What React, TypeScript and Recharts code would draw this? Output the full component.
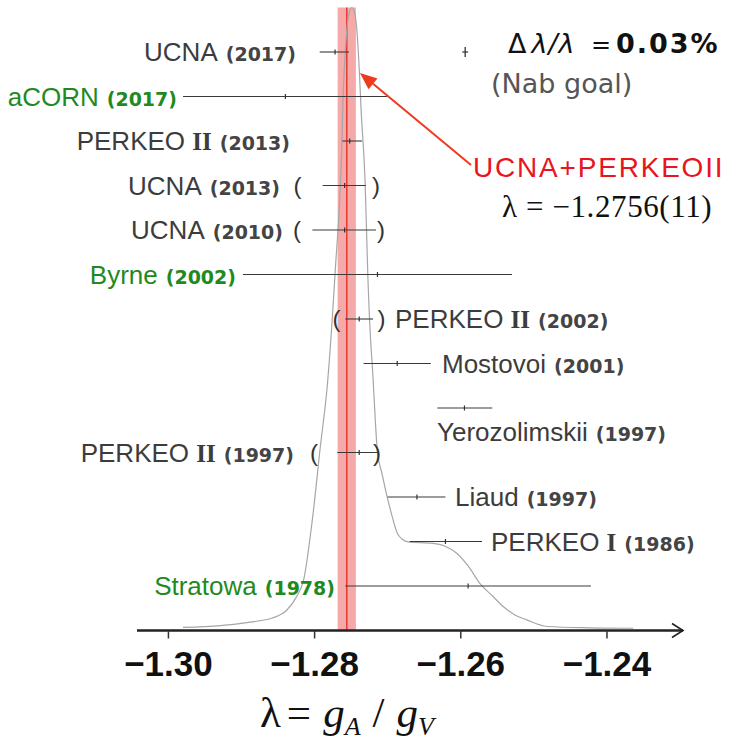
import React from 'react';
import {
  ComposedChart, Line, Scatter, ErrorBar, XAxis, YAxis,
  ReferenceArea, ReferenceLine, ReferenceDot,
} from 'recharts';

// measurements of lambda = gA/gV, listed from the top row down
const names = ['UCNA', 'aCORN', 'PERKEO Ⅱ', 'UCNA', 'UCNA', 'Byrne', 'PERKEO Ⅱ', 'Mostovoi', 'Yerozolimskii', 'PERKEO Ⅱ', 'Liaud', 'PERKEO Ⅰ', 'Stratowa'];
const years = ['2017', '2017', '2013', '2013', '2010', '2002', '2002', '2001', '1997', '1997', '1997', '1986', '1978'];
const rows = [13, 12, 11, 10, 9, 8, 7, 6, 5, 4, 3, 2, 1];
const lambda = [-1.2772, -1.2840, -1.2752, -1.2759, -1.2759, -1.2714, -1.2739, -1.2687, -1.2595, -1.2739, -1.2660, -1.2621, -1.2590];
const errLow = [0.0021, 0.0140, 0.0010, 0.0030, 0.0044, 0.0184, 0.0019, 0.0046, 0.0037, 0.0030, 0.0040, 0.0049, 0.0168];
const errHigh = [0.0019, 0.0139, 0.0017, 0.0029, 0.0043, 0.0184, 0.0019, 0.0046, 0.0038, 0.0025, 0.0039, 0.0050, 0.0168];

// combined UCNA+PERKEO II result and the Nab goal marker
const combined = -1.2756;
const combinedErr = 0.00125;
const nabLambda = -1.2594;
const nabErr = 0.0004;
const nabRow = 13;

// ideogram (gray curve)
const curveX = [-1.2980, -1.2929, -1.2888, -1.2858, -1.2838, -1.2825, -1.2815, -1.2802, -1.2793, -1.2782, -1.2772, -1.2763, -1.2761, -1.2757, -1.27535, -1.2749, -1.27446, -1.27412, -1.27387, -1.27364, -1.2731, -1.2727, -1.27234, -1.27213, -1.2714, -1.2708, -1.2701, -1.2694, -1.2687, -1.2680, -1.2672, -1.2638, -1.2622, -1.2606, -1.2590, -1.2574, -1.2557, -1.2542, -1.2526, -1.2510, -1.2482, -1.2423, -1.2364];
const curveH = [0.07, 0.11, 0.19, 0.28, 0.46, 0.75, 1.14, 2.64, 4.01, 5.63, 8.03, 10.80, 12.01, 13.27, 13.83, 14.0, 13.83, 13.27, 12.53, 11.70, 10.12, 7.88, 6.53, 6.01, 4.01, 3.54, 3.02, 2.57, 2.19, 2.05, 1.99, 1.96, 1.90, 1.74, 1.45, 1.06, 0.78, 0.54, 0.35, 0.24, 0.09, 0.06, 0.05];

const xTicks = [-1.30, -1.28, -1.26, -1.24];
const xDomain = [-1.3043, -1.2296];

// arrow from the "UCNA+PERKEOII" note to the peak
const arrowFrom = { x: -1.2586, y: 10.46 };
const arrowTo = { x: -1.2738, y: 12.53 };

// label placement (pixels)
const labelLayout = [
  { at: 296, anchor: 'end' },
  { at: 177, anchor: 'end', green: true },
  { at: 290, anchor: 'end' },
  { at: 280, anchor: 'end', open: 297.5, close: 376 },
  { at: 283, anchor: 'end', open: 297, close: 381 },
  { at: 236, anchor: 'end', green: true },
  { at: 395, anchor: 'start', open: 336.5, close: 381.5 },
  { at: 442, anchor: 'start' },
  { at: 437, anchor: 'start', dy: 24 },
  { at: 294, anchor: 'end', open: 314, close: 377 },
  { at: 455, anchor: 'start' },
  { at: 491, anchor: 'start' },
  { at: 335, anchor: 'end', green: true },
];

const points = lambda.map((x, i) => ({ i, x, y: rows[i], err: [errLow[i], errHigh[i]] }));
const nabPoint = [{ x: nabLambda, y: nabRow, err: nabErr }];
const curve = curveX.map((x, i) => ({ x, y: curveH[i] }));

const SANS = '"Liberation Sans", Arial, sans-serif';
const WIDE = '"DejaVu Sans", sans-serif';
const SERIF = '"Liberation Serif", "Times New Roman", serif';

const CenterTick = (p: any) => (
  <line x1={p.cx} x2={p.cx} y1={p.cy - 2.5} y2={p.cy + 2.5} stroke="#333" strokeWidth={1.2} />
);

const NabTick = (p: any) => (
  <line x1={p.cx} x2={p.cx} y1={p.cy - 5} y2={p.cy + 5} stroke="#333" strokeWidth={1.3} />
);

function nameParts(name: string) {
  const m = name.match(/^(.*?)([ⅠⅡ])$/);
  if (!m) return <tspan>{name}</tspan>;
  return (
    <>
      <tspan>{m[1]}</tspan>
      <tspan fontFamily={SERIF} fontWeight="bold" fontSize={25}>{m[2] === 'Ⅱ' ? 'II' : 'I'}</tspan>
    </>
  );
}

const LabelShape = (p: any) => {
  const i = p.payload.i;
  const lay: any = labelLayout[i];
  const base = p.cy + 9 + (lay.dy || 0);
  const color = lay.green ? '#1f8a1f' : '#3c3c3c';
  return (
    <g>
      <text x={lay.at} y={base} textAnchor={lay.anchor} fill={color} fontFamily={SANS} fontSize={26}>
        {nameParts(names[i])}
        <tspan dx={8} fontFamily={WIDE} fontWeight="bold" fontSize={19} fill={lay.green ? color : '#444'}>
          ({years[i]})
        </tspan>
      </text>
      {lay.open && (
        <text x={lay.open} y={p.cy + 8} textAnchor="middle" fill="#333" fontFamily={SANS} fontSize={24}>(</text>
      )}
      {lay.close && (
        <text x={lay.close} y={p.cy + 8} textAnchor="middle" fill="#333" fontFamily={SANS} fontSize={24}>)</text>
      )}
    </g>
  );
};

const Arrow = (p: any) => {
  const { x1, y1, x2, y2 } = p;
  const ang = Math.atan2(y2 - y1, x2 - x1);
  const len = 17;
  const half = 7;
  const bx = x2 - len * Math.cos(ang);
  const by = y2 - len * Math.sin(ang);
  const nx = -Math.sin(ang);
  const ny = Math.cos(ang);
  return (
    <g>
      <line x1={x1} y1={y1} x2={bx} y2={by} stroke="#f03a1e" strokeWidth={2} />
      <polygon
        points={`${x2},${y2} ${bx + nx * half},${by + ny * half} ${bx - nx * half},${by - ny * half}`}
        fill="#f03a1e"
      />
    </g>
  );
};

const Chevron = (p: any) => (
  <polyline
    points={`${p.cx - 11},${p.cy - 7} ${p.cx},${p.cy} ${p.cx - 11},${p.cy + 7}`}
    fill="none"
    stroke="#222"
    strokeWidth={1.6}
  />
);

const fmt = (v: number) => '\u2212' + Math.abs(v).toFixed(2);

export default function App() {
  return (
    <div style={{ position: 'absolute', left: 0, top: 0, width: 736, height: 742, background: '#fff' }}>
      <ComposedChart
        width={736}
        height={742}
        margin={{ top: 7.5, right: 53, bottom: 51.5, left: 137 }}
      >
        <XAxis
          type="number"
          dataKey="x"
          domain={xDomain}
          ticks={xTicks}
          tickFormatter={fmt}
          height={60}
          tickSize={8}
          tickMargin={13}
          axisLine={{ stroke: '#222', strokeWidth: 2.5 }}
          tickLine={{ stroke: '#333', strokeWidth: 1.5 }}
          tick={{ fill: '#111', fontSize: 35, fontWeight: 'bold', fontFamily: SANS }}
        />
        <YAxis type="number" dataKey="y" domain={[0, 14]} hide />

        <ReferenceArea
          x1={combined - combinedErr}
          x2={combined + combinedErr}
          fill="#f5a0a0"
          fillOpacity={0.9}
          stroke="none"
        />
        <ReferenceLine x={combined} stroke="#e8392f" strokeWidth={1.5} />

        <Line
          data={curve}
          dataKey="y"
          type="monotone"
          stroke="#a6a6a6"
          strokeWidth={1.2}
          dot={false}
          activeDot={false}
          isAnimationActive={false}
        />

        <Scatter data={points} dataKey="y" shape={CenterTick} isAnimationActive={false}>
          <ErrorBar dataKey="err" direction="x" width={0} stroke="#3a3a3a" strokeWidth={1.1} isAnimationActive={false} />
        </Scatter>
        <Scatter data={nabPoint} dataKey="y" shape={NabTick} isAnimationActive={false}>
          <ErrorBar dataKey="err" direction="x" width={0} stroke="#333" strokeWidth={1.2} isAnimationActive={false} />
        </Scatter>
        <Scatter data={points} dataKey="y" shape={LabelShape} isAnimationActive={false} />

        <ReferenceLine segment={[arrowFrom, arrowTo]} ifOverflow="visible" shape={Arrow} />
        <ReferenceDot x={xDomain[1]} y={0} ifOverflow="visible" shape={Chevron} />
      </ComposedChart>

      <svg width={736} height={742} style={{ position: 'absolute', left: 0, top: 0, pointerEvents: 'none' }}>
        <text x={508} y={53} fill="#111" fontSize={27} fontFamily={WIDE}>
          <tspan>Δ</tspan>
          <tspan dx={5} fontStyle="italic" letterSpacing={1}>λ/λ</tspan>
          <tspan x={591} fontSize={24}>=</tspan>
          <tspan x={616} fontWeight="bold" letterSpacing={2}>0.03%</tspan>
        </text>
        <text x={491} y={93} fill="#555" fontSize={27} fontFamily={WIDE}>(Nab goal)</text>
        <text x={473} y={177} fill="#e8141e" fontSize={28} fontFamily={SANS} letterSpacing={1.8}>UCNA+PERKEOII</text>
        <text x={502} y={217} fill="#111" fontSize={31} fontFamily={SERIF} letterSpacing={0.6}>λ = −1.2756(11)</text>
        <text x={260} y={727} fill="#111" fontSize={43} fontFamily={SERIF}>
          <tspan>λ</tspan>
          <tspan dx={6}>=</tspan>
          <tspan dx={12} fontStyle="italic">g</tspan>
          <tspan fontStyle="italic" fontSize={26} dy={8}>A</tspan>
          <tspan dx={12} dy={-8}>/</tspan>
          <tspan dx={12} fontStyle="italic">g</tspan>
          <tspan fontStyle="italic" fontSize={26} dy={8}>V</tspan>
        </text>
      </svg>
    </div>
  );
}
